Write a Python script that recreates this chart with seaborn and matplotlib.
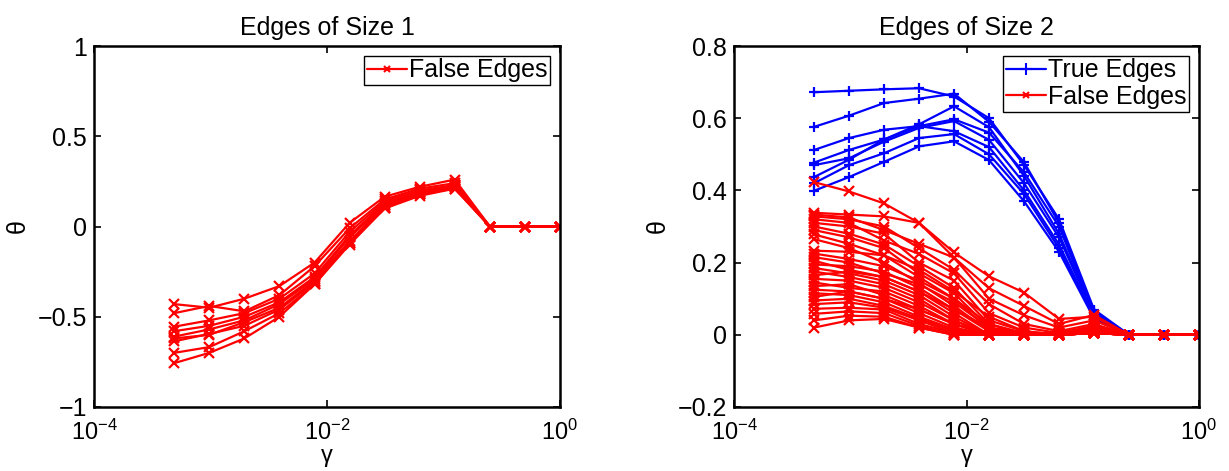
import numpy as np
import pandas as pd
import matplotlib
matplotlib.use("Agg")
import matplotlib.pyplot as plt
from matplotlib.lines import Line2D
import seaborn as sns

sns.set_style("white")
plt.rcParams['font.family'] = ['Liberation Sans', 'DejaVu Sans']
plt.rcParams['mathtext.fontset'] = 'custom'
plt.rcParams['mathtext.rm'] = 'Liberation Sans'
plt.rcParams['mathtext.it'] = 'Liberation Sans:italic'
plt.rcParams['text.color'] = 'black'
plt.rcParams['axes.labelcolor'] = 'black'
plt.rcParams['xtick.color'] = 'black'
plt.rcParams['ytick.color'] = 'black'

# gamma values: 2^-11 ... 2^0
gamma = [2.0 ** k for k in range(-11, 1)]

# Edges of size 1: false edges
size1_false = [
    [-0.43, -0.45, -0.40, -0.33, -0.20, 0.02, 0.165, 0.22, 0.26, 0, 0, 0],
    [-0.48, -0.44, -0.47, -0.38, -0.22, -0.01, 0.15, 0.21, 0.24, 0, 0, 0],
    [-0.555, -0.52, -0.48, -0.40, -0.26, -0.03, 0.14, 0.20, 0.23, 0, 0, 0],
    [-0.58, -0.55, -0.50, -0.42, -0.28, -0.05, 0.13, 0.19, 0.22, 0, 0, 0],
    [-0.61, -0.57, -0.52, -0.43, -0.29, -0.06, 0.12, 0.19, 0.225, 0, 0, 0],
    [-0.62, -0.60, -0.53, -0.45, -0.30, -0.08, 0.11, 0.18, 0.21, 0, 0, 0],
    [-0.636, -0.595, -0.55, -0.46, -0.31, -0.09, 0.10, 0.18, 0.22, 0, 0, 0],
    [-0.70, -0.668, -0.58, -0.48, -0.32, -0.10, 0.10, 0.17, 0.21, 0, 0, 0],
    [-0.757, -0.70, -0.62, -0.50, -0.32, -0.09, 0.12, 0.18, 0.23, 0, 0, 0],
]

# Edges of size 2: true edges
size2_true = [
    [0.672, 0.676, 0.680, 0.683, 0.660, 0.600, 0.470, 0.320, 0.070, 0, 0, 0],
    [0.576, 0.607, 0.642, 0.654, 0.668, 0.590, 0.478, 0.310, 0.065, 0, 0, 0],
    [0.512, 0.545, 0.568, 0.578, 0.597, 0.560, 0.450, 0.300, 0.060, 0, 0, 0],
    [0.477, 0.512, 0.541, 0.583, 0.633, 0.575, 0.440, 0.280, 0.058, 0, 0, 0],
    [0.470, 0.489, 0.535, 0.573, 0.592, 0.540, 0.420, 0.270, 0.055, 0, 0, 0],
    [0.437, 0.485, 0.541, 0.578, 0.564, 0.520, 0.400, 0.250, 0.050, 0, 0, 0],
    [0.420, 0.470, 0.503, 0.545, 0.556, 0.500, 0.390, 0.240, 0.048, 0, 0, 0],
    [0.399, 0.437, 0.479, 0.522, 0.536, 0.484, 0.370, 0.230, 0.045, 0, 0, 0],
]

# Edges of size 2: false edges
size2_false = [
    [0.423, 0.397, 0.364, 0.310, 0.228, 0.162, 0.117, 0.044, 0.050, 0, 0, 0],
    [0.338, 0.333, 0.328, 0.310, 0.214, 0.129, 0.080, 0.030, 0.055, 0, 0, 0],
    [0.333, 0.325, 0.290, 0.252, 0.214, 0.100, 0.054, 0.020, 0.040, 0, 0, 0],
    [0.328, 0.320, 0.300, 0.240, 0.180, 0.085, 0.030, 0.010, 0.030, 0, 0, 0],
    [0.320, 0.310, 0.261, 0.224, 0.170, 0.060, 0.020, 0.005, 0.025, 0, 0, 0],
    [0.310, 0.300, 0.280, 0.200, 0.150, 0.040, 0.010, 0.000, 0.020, 0, 0, 0],
    [0.300, 0.280, 0.250, 0.190, 0.130, 0.030, 0.005, 0.005, 0.020, 0, 0, 0],
    [0.290, 0.270, 0.240, 0.170, 0.115, 0.020, 0.000, 0.000, 0.015, 0, 0, 0],
    [0.278, 0.252, 0.220, 0.160, 0.100, 0.015, 0.000, 0.000, 0.015, 0, 0, 0],
    [0.265, 0.240, 0.200, 0.143, 0.080, 0.010, 0.000, 0.000, 0.010, 0, 0, 0],
    [0.233, 0.230, 0.220, 0.180, 0.120, 0.050, 0.010, 0.000, 0.020, 0, 0, 0],
    [0.225, 0.210, 0.190, 0.150, 0.100, 0.030, 0.000, 0.000, 0.015, 0, 0, 0],
    [0.215, 0.200, 0.170, 0.140, 0.090, 0.020, 0.005, 0.000, 0.010, 0, 0, 0],
    [0.205, 0.180, 0.160, 0.120, 0.060, 0.000, 0.000, 0.000, 0.010, 0, 0, 0],
    [0.195, 0.190, 0.175, 0.130, 0.070, 0.010, 0.000, 0.000, 0.010, 0, 0, 0],
    [0.185, 0.170, 0.150, 0.110, 0.050, 0.000, 0.000, 0.000, 0.010, 0, 0, 0],
    [0.175, 0.160, 0.140, 0.100, 0.040, 0.000, 0.000, 0.000, 0.005, 0, 0, 0],
    [0.165, 0.175, 0.160, 0.120, 0.070, 0.020, 0.000, 0.000, 0.010, 0, 0, 0],
    [0.155, 0.150, 0.130, 0.090, 0.040, 0.000, 0.000, 0.000, 0.005, 0, 0, 0],
    [0.145, 0.130, 0.120, 0.080, 0.030, 0.000, 0.000, 0.000, 0.005, 0, 0, 0],
    [0.135, 0.140, 0.110, 0.070, 0.030, 0.000, 0.000, 0.000, 0.005, 0, 0, 0],
    [0.125, 0.120, 0.100, 0.060, 0.020, 0.000, 0.000, 0.000, 0.005, 0, 0, 0],
    [0.115, 0.110, 0.090, 0.050, 0.015, 0.000, 0.000, 0.000, 0.005, 0, 0, 0],
    [0.105, 0.120, 0.100, 0.070, 0.030, 0.000, 0.000, 0.000, 0.005, 0, 0, 0],
    [0.095, 0.100, 0.080, 0.045, 0.010, 0.000, 0.000, 0.000, 0.005, 0, 0, 0],
    [0.085, 0.090, 0.075, 0.040, 0.005, 0.000, 0.000, 0.000, 0.005, 0, 0, 0],
    [0.072, 0.075, 0.070, 0.030, 0.005, 0.000, 0.000, 0.000, 0.005, 0, 0, 0],
    [0.058, 0.065, 0.060, 0.025, 0.000, 0.000, 0.000, 0.000, 0.005, 0, 0, 0],
    [0.040, 0.053, 0.050, 0.020, 0.000, 0.000, 0.000, 0.000, 0.005, 0, 0, 0],
    [0.020, 0.040, 0.044, 0.020, 0.000, 0.000, 0.000, 0.000, 0.005, 0, 0, 0],
]


def to_long(lines):
    rows = []
    for i, vals in enumerate(lines):
        for g, v in zip(gamma, vals):
            rows.append({"line": i, "gamma": g, "theta": v})
    return pd.DataFrame(rows)


def draw(ax, lines, color, marker):
    sns.lineplot(data=to_long(lines), x="gamma", y="theta", units="line",
                 estimator=None, color=color, marker=marker, markersize=7.5,
                 markeredgewidth=1.6, markeredgecolor=color, linewidth=1.6,
                 legend=False, ax=ax)


def style_axes(ax, title):
    ax.set_xscale("log")
    ax.set_xlim(1e-4, 1)
    ax.set_xticks([1e-4, 1e-2, 1])
    ax.set_xticklabels([r"$10^{-4}$", r"$10^{-2}$", r"$10^{0}$"])
    ax.xaxis.set_minor_locator(matplotlib.ticker.NullLocator())
    ax.tick_params(direction="in", length=5, width=1.2, labelsize=18,
                   top=True, right=True, bottom=True, left=True)
    ax.tick_params(axis="x", pad=9, labelsize=17)
    ax.tick_params(axis="y", pad=5)
    for s in ax.spines.values():
        s.set_visible(True)
        s.set_color("black")
        s.set_linewidth(1.8)
    ax.set_xlabel("γ", fontsize=17, labelpad=0)
    ax.set_ylabel("θ", fontsize=18, labelpad=6)
    ax.set_title(title, fontsize=18, pad=8)


fig = plt.figure(figsize=(12.29, 4.71), dpi=100)
ax1 = fig.add_axes([94 / 1229, 1 - 407 / 471, 466 / 1229, 361 / 471])
ax2 = fig.add_axes([734 / 1229, 1 - 407 / 471, 465 / 1229, 361 / 471])

draw(ax1, size1_false, "red", "x")
style_axes(ax1, "Edges of Size 1")
ax1.set_ylim(-1, 1)
ax1.set_yticks([-1, -0.5, 0, 0.5, 1])
ax1.set_yticklabels(["\u22121", "\u22120.5", "0", "0.5", "1"])

draw(ax2, size2_true, "blue", "+")
draw(ax2, size2_false, "red", "x")
style_axes(ax2, "Edges of Size 2")
ax2.set_ylim(-0.2, 0.8)
ax2.set_yticks([-0.2, 0, 0.2, 0.4, 0.6, 0.8])
ax2.set_yticklabels(["\u22120.2", "0", "0.2", "0.4", "0.6", "0.8"])

h_true = Line2D([], [], color="blue", marker="+", markersize=8, markeredgewidth=1.5, linewidth=1.6)
h_false = Line2D([], [], color="red", marker="x", markersize=5, markeredgewidth=1.5, linewidth=1.6)

for ax, handles, labels in [(ax1, [h_false], ["False Edges"]),
                            (ax2, [h_true, h_false], ["True Edges", "False Edges"])]:
    leg = ax.legend(handles, labels, loc="upper right", fontsize=18, frameon=True,
                    fancybox=False, edgecolor="black", framealpha=1,
                    handlelength=1.6, handletextpad=0.1, borderpad=0.1,
                    labelspacing=0.1, borderaxespad=0.4)
    leg.get_frame().set_linewidth(1.0)

fig.savefig("out.png", dpi=100)
